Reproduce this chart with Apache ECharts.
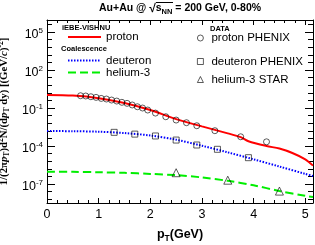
<!DOCTYPE html>
<html><head><meta charset="utf-8">
<script src="https://cdn.jsdelivr.net/npm/echarts@6/dist/echarts.min.js"></script>
<style>html,body{margin:0;padding:0;background:#fff}#c{width:315px;height:245px}</style>
</head><body><div id="c"></div>
<script>
// ---- data (raw spectrum values; y axis is drawn in log10 space) ----
const protonCurvePt = [0, 0.5, 1.0, 1.5, 2.0, 2.5, 3.0, 3.5, 3.75, 3.9, 4.25, 4.5, 4.75, 5.0, 5.15];
const protonCurveY  = [1.07, 0.955, 0.603, 0.251, 0.0692, 0.0132, 0.00355, 0.001, 0.000501, 0.00024, 0.0001, 6.31e-5, 2.82e-5, 8.9e-6, 2.82e-6];
const deuteronCurvePt = [0, 0.5, 1.0, 1.5, 2.0, 2.5, 3.0, 3.5, 4.0, 4.5, 5.0, 5.15];
const deuteronCurveY  = [1.51e-3, 1.48e-3, 1.35e-3, 1.05e-3, 6.76e-4, 3.16e-4, 1.05e-4, 3.16e-5, 8.9e-6, 2.4e-6, 6.3e-7, 4.27e-7];
const helium3CurvePt = [0, 0.5, 1.0, 1.5, 2.0, 2.5, 3.0, 3.5, 4.0, 4.5, 5.0, 5.15];
const helium3CurveY  = [9.3e-7, 9.1e-7, 8.5e-7, 7.6e-7, 6.3e-7, 5.0e-7, 3.3e-7, 1.78e-7, 7.9e-8, 2.8e-8, 1.17e-8, 9.3e-9];

const protonDataPt = [0.65, 0.75, 0.85, 0.95, 1.05, 1.15, 1.25, 1.35, 1.45, 1.55, 1.65, 1.75, 1.85, 1.95, 2.1, 2.3, 2.5, 2.7, 2.9, 3.25, 3.75, 4.25];
const protonDataY  = [0.933, 0.891, 0.776, 0.692, 0.575, 0.513, 0.427, 0.355, 0.282, 0.234, 0.174, 0.126, 0.100, 0.0692, 0.0398, 0.0204, 0.0112, 0.00692, 0.00398, 0.00162, 0.000537, 0.000214];
const deuteronDataPt = [1.3, 1.7, 2.1, 2.5, 2.9, 3.3, 3.9];
const deuteronDataY  = [1.2e-3, 8.7e-4, 6.2e-4, 2.95e-4, 1.2e-4, 5.5e-5, 1.2e-5];
const helium3DataPt = [2.5, 3.5, 4.5];
const helium3DataY  = [7.8e-7, 2.0e-7, 2.75e-8];

// ---- ticks / labels ----
const xTickLabels = [0, 1, 2, 3, 4, 5];
const xMinorTicks = [0.2,0.4,0.6,0.8,1.2,1.4,1.6,1.8,2.2,2.4,2.6,2.8,3.2,3.4,3.6,3.8,4.2,4.4,4.6,4.8];
const yTickExponents = [-7, -4, -1, 2, 5];
const yMinorExponents = [-8.2, -7.6, -6.4, -5.8, -5.2, -4.6, -3.4, -2.8, -2.2, -1.6, -0.4, 0.2, 0.8, 1.4, 2.6, 3.2, 3.8, 4.4, 5.6];

const toLog = (xs, ys) => xs.map((x, i) => [x, Math.log10(ys[i])]);

const SANS = 'Liberation Sans';
const SERIF = 'Liberation Serif';
const X_MIN = 0, X_MAX = 5.15, Y_MIN = -8.5, Y_MAX = 5.95;
const X_MINOR_STEP = 0.2, Y_MAJOR_STEP = 3, Y_MINOR_STEP = 0.6, Y_REF = -7;

// bottom / left: explicit tick values
function xAx(pos, ticks, len, labels, line) {
  return {
    type: 'value', position: pos, min: X_MIN, max: X_MAX,
    axisLine: {show: line, onZero: false, lineStyle: {color: '#000', width: 1}}, splitLine: {show: false},
    axisTick: {show: true, inside: true, length: len, customValues: ticks, lineStyle: {color: '#000', width: 1}},
    axisLabel: labels ? {show: true, customValues: xTickLabels, margin: 5, color: '#000', fontFamily: SANS, fontSize: 12.5} : {show: false}
  };
}
function yAx(pos, ticks, len, labels, line) {
  return {
    type: 'value', position: pos, min: Y_MIN, max: Y_MAX,
    axisLine: {show: line, onZero: false, lineStyle: {color: '#000', width: 1}}, splitLine: {show: false},
    axisTick: {show: true, inside: true, length: len, customValues: ticks, lineStyle: {color: '#000', width: 1}},
    axisLabel: labels ? {
      show: true, customValues: yTickExponents, margin: 4, padding: [5, 0, 0, 0],
      formatter: v => '{b|10}{s|' + Math.round(v) + '}',
      rich: {b: {fontFamily: SANS, fontSize: 12.5, color: '#000', lineHeight: 16},
             s: {fontFamily: SANS, fontSize: 8, color: '#000', verticalAlign: 'top', lineHeight: 9}}
    } : {show: false}
  };
}
// top / right mirror frames: same span, ticks in units of one tick step (interval fixed to 1)
function mirrorAx(pos, lo, hi, len, line) {
  return {
    type: 'value', position: pos, min: lo, max: hi, minInterval: 1, maxInterval: 1, splitNumber: 30,
    axisLine: {show: line, onZero: false, lineStyle: {color: '#000', width: 1}}, splitLine: {show: false},
    axisTick: {show: true, inside: true, length: len, lineStyle: {color: '#000', width: 1}},
    axisLabel: {show: false}
  };
}

const xAxes = [
  xAx('bottom', xTickLabels, 5, true, true),
  xAx('bottom', xMinorTicks, 3, false, false),
  mirrorAx('top', X_MIN, X_MAX, 5, true),
  mirrorAx('top', X_MIN / X_MINOR_STEP, X_MAX / X_MINOR_STEP, 3, false)
];
xAxes[0].name = '{b|p}{s|T}{b|(GeV)}';
xAxes[0].nameLocation = 'middle';
xAxes[0].nameGap = 24;
xAxes[0].nameTextStyle = {rich: {b: {fontFamily: SANS, fontWeight: 'bold', fontSize: 12.5, color: '#000', lineHeight: 16},
                                 s: {fontFamily: SANS, fontWeight: 'bold', fontSize: 8.5, color: '#000', verticalAlign: 'bottom', lineHeight: 9}}};
const yAxes = [
  yAx('left', yTickExponents, 8, true, true),
  yAx('left', yMinorExponents, 5, false, false),
  mirrorAx('right', (Y_MIN - Y_REF) / Y_MAJOR_STEP, (Y_MAX - Y_REF) / Y_MAJOR_STEP, 8, true),
  mirrorAx('right', (Y_MIN - Y_REF) / Y_MINOR_STEP, (Y_MAX - Y_REF) / Y_MINOR_STEP, 5, false)
];
yAxes[0].name = '{n|1/(2π}{i|p}{sb|T}{n|)d}{sp|2}{n|N/(d}{i|p}{sb|T}{n| dy) [(GeV/}{i|c}{n|)}{sp|-2}{n|]}';
yAxes[0].nameLocation = 'middle';
yAxes[0].nameGap = 31;
yAxes[0].nameTextStyle = {rich: {
  n: {fontFamily: SERIF, fontWeight: 'bold', fontSize: 10.8, color: '#000', lineHeight: 14},
  i: {fontFamily: SERIF, fontWeight: 'bold', fontStyle: 'italic', fontSize: 10.8, color: '#000', lineHeight: 14},
  sb: {fontFamily: SERIF, fontWeight: 'bold', fontSize: 7.5, color: '#000', verticalAlign: 'bottom', lineHeight: 8},
  sp: {fontFamily: SERIF, fontWeight: 'bold', fontSize: 7.5, color: '#000', verticalAlign: 'top', lineHeight: 8}
}};

const legendText = {fontFamily: SANS, fontSize: 11.5, color: '#000', lineHeight: 12};
const legendTextR = {fontFamily: SANS, fontSize: 11.5, color: '#000', lineHeight: 12, padding: [0, 0, 0, 3]};
const hdr = {fontFamily: SANS, fontWeight: 'bold', fontSize: 7.5, color: '#000'};
const lineLegend = {orient: 'vertical', itemWidth: 33, itemHeight: 12, itemGap: 0, textStyle: legendText, padding: 0,
                    itemStyle: {opacity: 0}};
const markLegend = {orient: 'vertical', itemWidth: 6, itemHeight: 6, itemGap: 6, textStyle: legendTextR, padding: 0,
                    itemStyle: {color: 'transparent', borderColor: '#000', borderWidth: 0.8}};

const chart = echarts.init(document.getElementById('c'), null, {renderer: 'canvas'});
chart.setOption({
  animation: false,
  backgroundColor: '#fff',
  grid: {left: 47, right: 2, top: 20, bottom: 42, show: false, outerBoundsMode: 'none'},
  title: [
    {text: '{b|Au+Au @ }{r|√}{b|s}{sb|NN}{b| = 200 GeV, 0-80%}', left: 99, top: 1, padding: 0,
     textStyle: {rich: {
       b: {fontFamily: SANS, fontWeight: 'bold', fontSize: 10.5, color: '#000', lineHeight: 15},
       r: {fontFamily: SANS, fontSize: 12, color: '#000', lineHeight: 15},
       sb: {fontFamily: SANS, fontWeight: 'bold', fontSize: 7.5, color: '#000', verticalAlign: 'bottom', lineHeight: 9}}}},
    {text: 'iEBE-VISHNU', left: 62, top: 24, padding: 0, textStyle: hdr},
    {text: 'Coalescence', left: 61, top: 44.5, padding: 0, textStyle: hdr},
    {text: 'DATA', left: 210, top: 24.5, padding: 0, textStyle: hdr}
  ],
  graphic: [
    {type: 'line', shape: {x1: 156, y1: 2.5, x2: 173, y2: 2.5}, style: {stroke: '#000', lineWidth: 1}}
  ],
  legend: [
    Object.assign({data: ['proton'], left: 67, top: 31}, lineLegend),
    Object.assign({data: ['deuteron', 'helium-3'], left: 67, top: 54.5}, lineLegend),
    Object.assign({data: ['proton PHENIX'], left: 197, top: 32}, markLegend),
    Object.assign({data: ['deuteron PHENIX', 'helium-3 STAR'], left: 197, top: 55.5}, markLegend)
  ],
  xAxis: xAxes,
  yAxis: yAxes,
  series: [
    {name: 'proton', type: 'line', data: toLog(protonCurvePt, protonCurveY), symbol: 'none', smooth: 0.3,
     lineStyle: {color: '#ff0000', width: 2}, itemStyle: {color: '#ff0000'}, z: 3},
    {name: 'deuteron', type: 'line', data: toLog(deuteronCurvePt, deuteronCurveY), symbol: 'none', smooth: 0.3,
     lineStyle: {color: '#0000ff', width: 2, type: [1.5, 1.5]}, itemStyle: {color: '#0000ff'}, z: 3},
    {name: 'helium-3', type: 'line', data: toLog(helium3CurvePt, helium3CurveY), symbol: 'none', smooth: 0.3,
     lineStyle: {color: '#00ee00', width: 2, type: [8, 4]}, itemStyle: {color: '#00ee00'}, z: 3},
    {name: 'proton PHENIX', type: 'scatter', data: toLog(protonDataPt, protonDataY), symbol: 'circle', symbolSize: 6,
     itemStyle: {color: 'transparent', borderColor: '#000', borderWidth: 0.8}, z: 4},
    {name: 'deuteron PHENIX', type: 'scatter', data: toLog(deuteronDataPt, deuteronDataY), symbol: 'rect', symbolSize: 6,
     itemStyle: {color: 'transparent', borderColor: '#000', borderWidth: 0.8}, z: 4},
    {name: 'helium-3 STAR', type: 'scatter', data: toLog(helium3DataPt, helium3DataY), symbol: 'triangle', symbolSize: 8,
     itemStyle: {color: 'transparent', borderColor: '#000', borderWidth: 0.8}, z: 4}
  ]
});
</script></body></html>
